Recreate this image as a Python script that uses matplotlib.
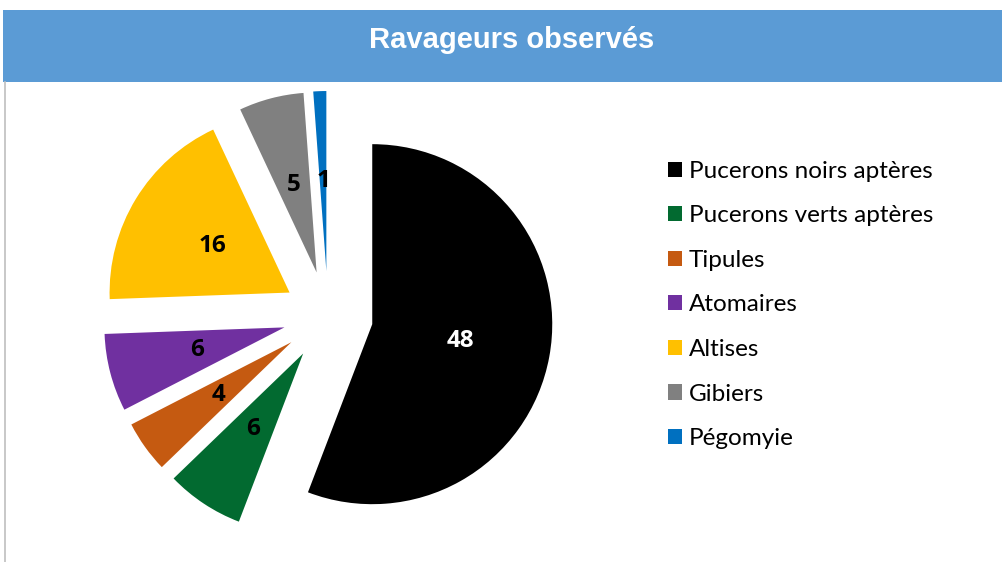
import matplotlib.pyplot as plt
from matplotlib.patches import Rectangle
from matplotlib.lines import Line2D

labels = ['Pucerons noirs aptères', 'Pucerons verts aptères', 'Tipules',
          'Atomaires', 'Altises', 'Gibiers', 'Pégomyie']
values = [48, 6, 4, 6, 16, 5, 1]
colors = ['#000000', '#026A30', '#C55A11', '#7030A0', '#FFC000', '#808080', '#0070C0']
label_colors = ['white', 'black', 'black', 'black', 'black', 'black', 'black']

W, H = 1003, 562
fig = plt.figure(figsize=(W / 100, H / 100), dpi=100)

# title bar
fig.patches.append(Rectangle((3 / W, 1 - 82 / H), 1, 72 / H, transform=fig.transFigure,
                             facecolor='#5B9BD5', edgecolor='none', zorder=0))
fig.lines.append(Line2D([5.5 / W, 5.5 / W], [0, 1 - 82 / H], transform=fig.transFigure,
                        color='#BFBFBF', lw=1.2))
fig.text(512 / W, 1 - 40 / H, 'Ravageurs observés', ha='center', va='center',
         color='white', fontsize=21, fontweight='bold', family='Liberation Sans')

# pie: center (328, 316) px, radius 180 px
cx, cy, r = 328, 316, 180
side = 3 * r
ax = fig.add_axes([(cx - side / 2) / W, (H - cy - side / 2) / H, side / W, side / H])
wedges, texts = ax.pie(values, colors=colors, startangle=90, counterclock=False,
                       explode=[0.25] * len(values), labels=[str(v) for v in values],
                       labeldistance=0.5, wedgeprops=dict(linewidth=0),
                       textprops=dict(fontsize=17.5, fontweight='bold', family='Open Sans',
                                      ha='center', va='center'))
for t, c in zip(texts, label_colors):
    t.set_color(c)
ax.set_xlim(-1.5, 1.5)
ax.set_ylim(-1.5, 1.5)

fig.legend(wedges, labels, loc='upper left', bbox_to_anchor=(658 / W, 1 - 151 / H),
           frameon=False, prop=dict(family='Lato', size=17.5), handlelength=0.58,
           handleheight=0.58, handletextpad=0.3, labelspacing=0.97, borderaxespad=0)

fig.savefig('out.png', dpi=100)
